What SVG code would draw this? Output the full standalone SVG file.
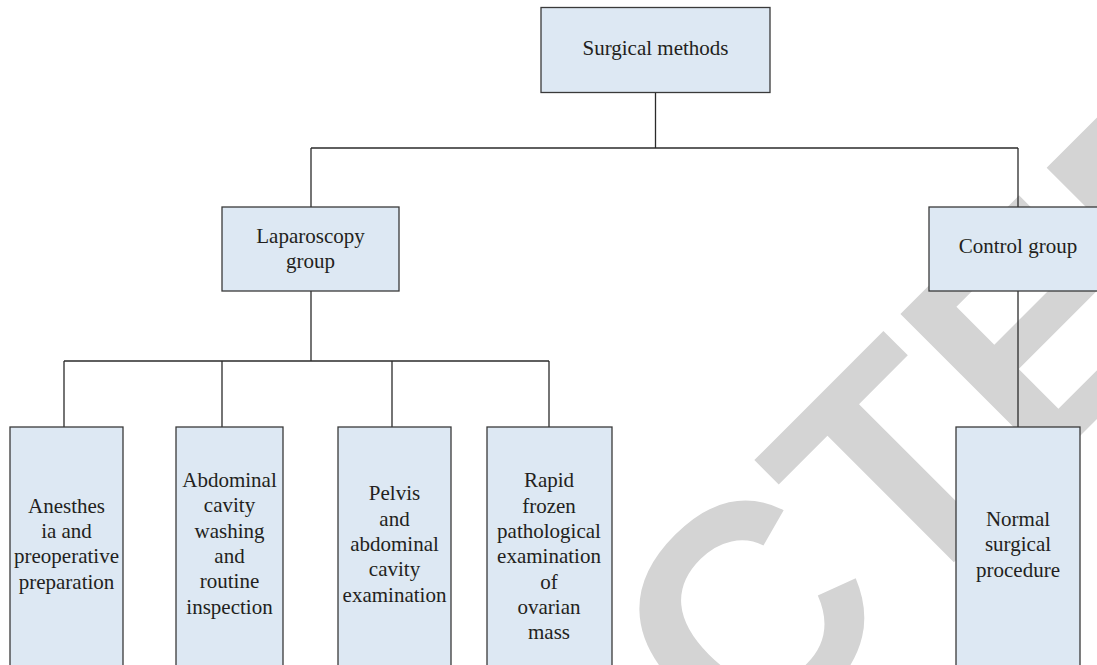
<svg xmlns="http://www.w3.org/2000/svg" width="1097" height="665" viewBox="0 0 1097 665">
<style>
.box{fill:#dde8f3;stroke:#3a3a3a;stroke-width:1.3}
.t{font-family:"Liberation Serif","Times New Roman",serif;font-size:21px;fill:#231f20;text-anchor:middle}
.c{fill:none;stroke:#2b2b2b;stroke-width:1.3}
.wm{font-family:"Liberation Sans",Arial,sans-serif;font-weight:bold;font-size:310px;fill:#d4d4d4}
</style>
<rect width="1097" height="665" fill="#ffffff"/>
<g id="watermark" transform="translate(758,758) rotate(-45)">
<text class="wm" x="-1087" y="0">RETRACTED</text>
</g>
<g id="connectors">
<path class="c" d="M655.5,92.5V148M311,148H1018M311,148V207M1018,148V207"/>
<path class="c" d="M311,291V361M64,361H549M64,361V427M222,361V427M392,361V427M549,361V427"/>
<path class="c" d="M1018,291V427"/>
</g>
<g id="n-surgical"><rect class="box" x="541" y="7.5" width="229" height="85"/><text class="t" x="655.5" y="55">Surgical methods</text></g>
<g id="n-lap"><rect class="box" x="222" y="207" width="177" height="84"/><text class="t" x="310.5" y="243">Laparoscopy</text><text class="t" x="310.5" y="268">group</text></g>
<g id="n-control"><rect class="box" x="929" y="207" width="175" height="84"/><text class="t" x="1018" y="253">Control group</text></g>
<g id="n-anes"><rect class="box" x="10" y="427" width="113" height="250"/><text class="t" x="66.5" y="513">Anesthes</text><text class="t" x="66.5" y="538">ia and</text><text class="t" x="66.5" y="563">preoperative</text><text class="t" x="66.5" y="589">preparation</text></g>
<g id="n-abd"><rect class="box" x="176" y="427" width="107" height="250"/><text class="t" x="229.5" y="487">Abdominal</text><text class="t" x="229.5" y="512">cavity</text><text class="t" x="229.5" y="537.5">washing</text><text class="t" x="229.5" y="563">and</text><text class="t" x="229.5" y="588">routine</text><text class="t" x="229.5" y="613.5">inspection</text></g>
<g id="n-pelvis"><rect class="box" x="338" y="427" width="113" height="250"/><text class="t" x="394.5" y="500">Pelvis</text><text class="t" x="394.5" y="525.5">and</text><text class="t" x="394.5" y="551">abdominal</text><text class="t" x="394.5" y="576">cavity</text><text class="t" x="394.5" y="601.5">examination</text></g>
<g id="n-rapid"><rect class="box" x="487" y="427" width="125" height="250"/><text class="t" x="549" y="487">Rapid</text><text class="t" x="549" y="512.5">frozen</text><text class="t" x="549" y="538">pathological</text><text class="t" x="549" y="563">examination</text><text class="t" x="549" y="588.5">of</text><text class="t" x="549" y="614">ovarian</text><text class="t" x="549" y="639">mass</text></g>
<g id="n-normal"><rect class="box" x="956" y="427" width="124" height="250"/><text class="t" x="1018" y="526">Normal</text><text class="t" x="1018" y="551">surgical</text><text class="t" x="1018" y="577">procedure</text></g>
</svg>
